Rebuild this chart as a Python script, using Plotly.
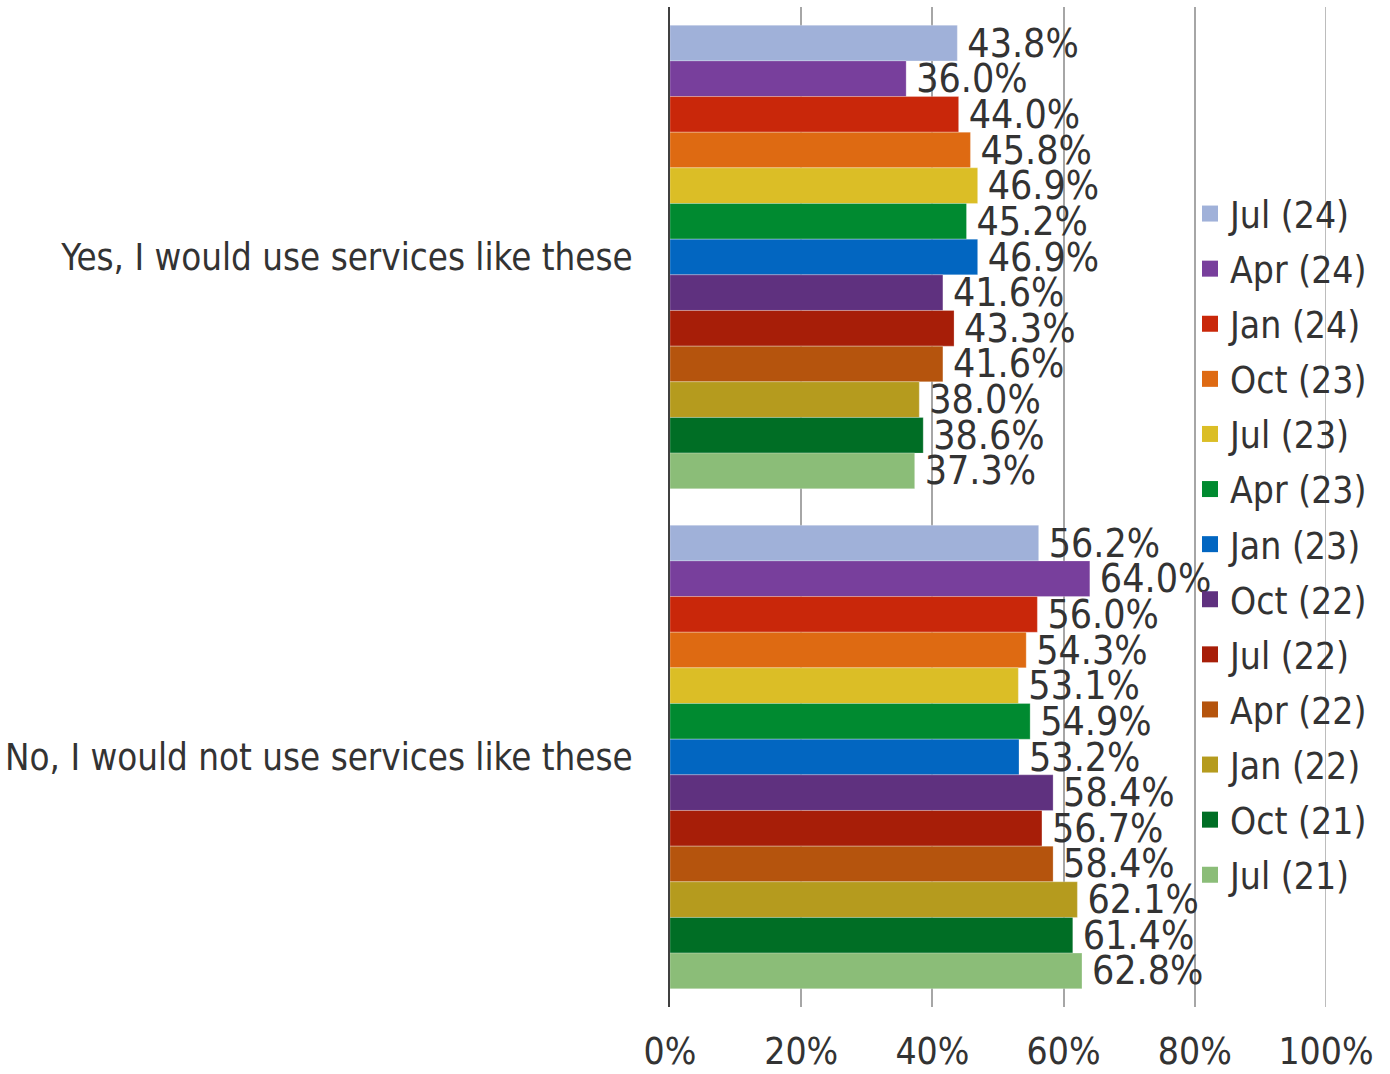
import plotly.graph_objects as go

categories = ["Yes, I would use services like these", "No, I would not use services like these"]
series_names = ["Jul (24)", "Apr (24)", "Jan (24)", "Oct (23)", "Jul (23)", "Apr (23)", "Jan (23)",
                "Oct (22)", "Jul (22)", "Apr (22)", "Jan (22)", "Oct (21)", "Jul (21)"]
yes_values = [43.8, 36.0, 44.0, 45.8, 46.9, 45.2, 46.9, 41.6, 43.3, 41.6, 38.0, 38.6, 37.3]
no_values = [56.2, 64.0, 56.0, 54.3, 53.1, 54.9, 53.2, 58.4, 56.7, 58.4, 62.1, 61.4, 62.8]
colors = ["#A0B1D9", "#783F9C", "#C9270A", "#DE6A12", "#DBBE26", "#008A30", "#0266C1",
          "#5F317F", "#A71E08", "#B5540D", "#B59B1E", "#006E25", "#8BBD78"]
x_ticks = [0, 20, 40, 60, 80, 100]
x_tick_labels = ["0%", "20%", "40%", "60%", "80%", "100%"]

FONT = "DejaVu Sans Condensed, DejaVu Sans, sans-serif"

fig = go.Figure()
for i, name in enumerate(series_names):
    vals = [yes_values[i], no_values[i]]
    fig.add_trace(go.Bar(
        y=categories, x=vals, name=name, orientation="h",
        marker=dict(color=colors[i], line=dict(color="rgba(255,255,255,0.5)", width=0.5)),
        text=[f"\u2009{v:.1f}%" for v in vals], textposition="outside", constraintext="none",
        textfont=dict(family=FONT, size=39, color="#333333"),
        cliponaxis=False, showlegend=False, legendgroup=name,
    ))
# legend entries (square swatches)
for i, name in enumerate(series_names):
    fig.add_trace(go.Scatter(
        x=[None], y=[None], mode="markers", name=name, legendgroup=name,
        marker=dict(symbol="square", size=18, color=colors[i]),
        showlegend=True,
    ))

# gridline at the right edge (100%)
fig.add_shape(type="line", xref="x", yref="paper", x0=x_ticks[-1], x1=x_ticks[-1], y0=0, y1=1,
              line=dict(color="#A6A6A6", width=1.5), layer="below")

fig.update_layout(
    width=1390, height=1074,
    margin=dict(l=670, r=64, t=7, b=67, autoexpand=False),
    barmode="group", bargap=0.073, bargroupgap=0,
    plot_bgcolor="white", paper_bgcolor="white",
    font=dict(family=FONT, size=34, color="#333333"),
    legend=dict(
        x=(1190 - 670) / 656, xanchor="left",
        y=1 - (183 - 7) / 1000, yanchor="top",
        font=dict(family=FONT, size=37, color="#333333"),
        bgcolor="rgba(0,0,0,0)", tracegroupgap=4,
    ),
    xaxis=dict(
        range=[0, 100], tickvals=x_ticks, ticktext=x_tick_labels,
        showgrid=True, gridcolor="#A6A6A6", gridwidth=1.5,
        zeroline=False, showline=False, ticks="", ticklabelstandoff=19,
        tickfont=dict(family=FONT, size=37, color="#333333"),
        automargin=False,
    ),
    yaxis=dict(
        autorange="reversed", showline=True, linecolor="#404040", linewidth=2,
        ticks="", ticklabelstandoff=28, automargin=False,
        tickfont=dict(family=FONT, size=36.4, color="#333333"),
    ),
)

fig.write_html("out.html")
